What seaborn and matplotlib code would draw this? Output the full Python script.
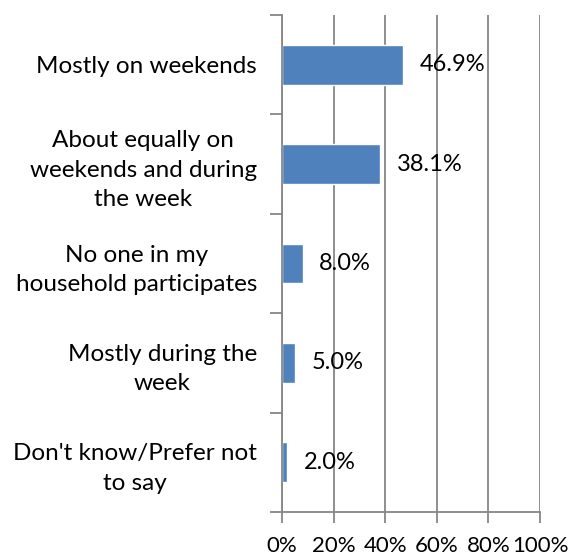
import matplotlib
matplotlib.use("Agg")
import matplotlib.pyplot as plt
import seaborn as sns
import pandas as pd
import numpy as np

categories = [
    "Mostly on weekends",
    "About equally on\nweekends and during\nthe week",
    "No one in my\nhousehold participates",
    "Mostly during the\nweek",
    "Don't know/Prefer not\nto say",
]
values = [46.9, 38.1, 8.0, 5.0, 2.0]
xticks = [0, 20, 40, 60, 80, 100]
xtick_labels = ["0%", "20%", "40%", "60%", "80%", "100%"]

sns.set_theme(style="white")
plt.rcParams["font.family"] = ["Lato", "DejaVu Sans"]

W, H = 572, 558
fig = plt.figure(figsize=(W / 100, H / 100), dpi=100)
ax = fig.add_axes([282 / W, (H - 512) / H, (540 - 282) / W, (512 - 15) / H])

df = pd.DataFrame({"cat": categories, "val": values})
sns.barplot(data=df, x="val", y="cat", orient="h", color="#4F81BD",
            saturation=1, width=0.4, ax=ax)

grid_c = "#868686"
ax.set_xlim(0, 100)
ax.set_ylim(len(categories) - 0.5, -0.5)
ax.set_xticks(xticks)
ax.set_xticklabels(xtick_labels, fontsize=16)
ax.xaxis.grid(True, color=grid_c, linewidth=1.3)
ax.set_axisbelow(True)
ax.set_xlabel("")
ax.set_ylabel("")

ax.set_yticks(range(len(categories)))
ax.set_yticklabels(categories, fontsize=17.5, ha="right", multialignment="center",
                   linespacing=1.5, color="black")
ax.set_yticks(np.arange(-0.5, len(categories)), minor=True)
ax.tick_params(axis="y", which="major", length=0, pad=18)
ax.tick_params(axis="y", which="minor", length=9, width=1.3, color=grid_c, left=True)
ax.tick_params(axis="x", which="major", length=8, width=1.3, color=grid_c,
               bottom=True, pad=9, labelcolor="black")

for s in ["top", "right"]:
    ax.spines[s].set_visible(False)
for s in ["left", "bottom"]:
    ax.spines[s].set_color(grid_c)
    ax.spines[s].set_linewidth(1.3)

for i, v in enumerate(values):
    ax.annotate(f"{v:.1f}%", xy=(v, i), xytext=(12, 0), textcoords="offset points",
                ha="left", va="center", fontsize=17, color="black")

fig.savefig("out.png", dpi=100)
